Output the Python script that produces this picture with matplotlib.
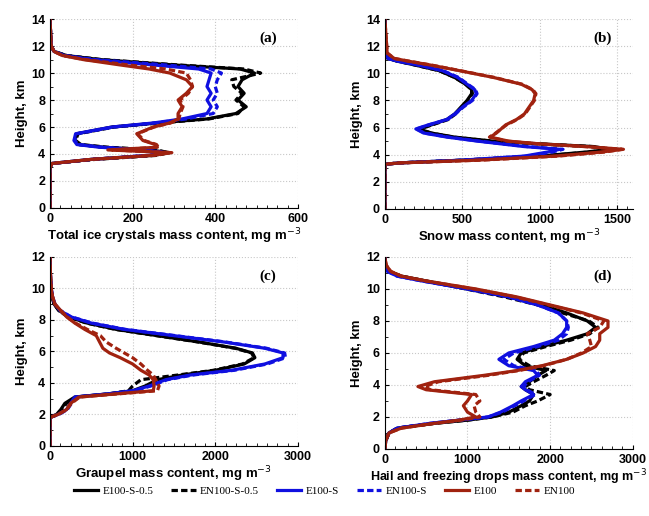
import numpy as np
import matplotlib
matplotlib.use('Agg')
import matplotlib.pyplot as plt
from matplotlib.ticker import AutoMinorLocator
from matplotlib.lines import Line2D

plt.rcParams['font.family'] = ['Liberation Sans', 'DejaVu Sans']

series_names = ['E100-S-0.5', 'EN100-S-0.5', 'E100-S', 'EN100-S', 'E100', 'EN100']
series_colors = ['black', 'black', '#1010e0', '#1010e0', '#a0220f', '#a0220f']
series_styles = ['-', '--', '-', '--', '-', '--']

# ---- (a) total ice crystals ----
h_a = [0, 3.0, 3.3, 3.6, 3.9, 4.1, 4.3, 4.5, 4.7, 5.0, 5.5, 6.0, 6.3, 6.6, 7.0, 7.5,
       8.0, 8.5, 9.0, 9.5, 10.0, 10.3, 10.6, 11.0, 11.3, 11.6, 12.0, 14.0]
a_e100s05 = [0, 0, 5, 100, 250, 290, 240, 130, 70, 60, 65, 150, 260, 380, 450, 475,
             455, 470, 455, 465, 495, 460, 300, 120, 40, 10, 3, 0]
a_en100s05 = [0, 0, 5, 110, 260, 285, 260, 140, 75, 62, 68, 155, 265, 385, 455, 470,
              450, 465, 445, 440, 510, 470, 310, 125, 40, 10, 3, 0]
a_e100s = [0, 0, 5, 100, 240, 280, 230, 120, 65, 58, 62, 150, 250, 320, 380, 390,
           380, 390, 380, 385, 390, 360, 250, 100, 35, 10, 3, 0]
a_en100s = [0, 0, 5, 100, 240, 280, 230, 125, 68, 60, 65, 155, 255, 330, 395, 405,
            395, 405, 400, 405, 415, 390, 280, 110, 35, 10, 3, 0]
a_e100 = [0, 0, 5, 100, 250, 295, 140, 260, 255, 225, 210, 250, 290, 310, 310, 320,
          310, 330, 345, 330, 290, 240, 170, 80, 30, 10, 3, 0]
a_en100 = [0, 0, 5, 100, 250, 290, 150, 262, 258, 228, 212, 252, 292, 312, 315, 322,
           315, 335, 345, 340, 330, 280, 190, 85, 30, 10, 3, 0]

# ---- (b) snow ----
h_b = [0, 3.3, 3.4, 3.6, 3.9, 4.2, 4.4, 4.6, 4.8, 5.0, 5.3, 5.6, 5.9, 6.2, 6.6, 7.0,
       7.5, 8.0, 8.5, 8.8, 9.2, 9.7, 10.2, 10.6, 10.9, 11.1, 11.5, 14.0]
b_e100s05 = [0, 0, 100, 500, 1000, 1300, 1450, 1350, 1000, 700, 450, 300, 220, 300, 400, 450,
             490, 530, 560, 560, 520, 450, 350, 200, 80, 20, 5, 0]
b_en100s05 = [0, 0, 100, 520, 1020, 1320, 1460, 1340, 990, 690, 440, 295, 225, 305, 410, 455,
              495, 535, 565, 560, 520, 450, 350, 200, 80, 20, 5, 0]
b_e100s = [0, 0, 100, 500, 900, 1050, 1130, 900, 750, 600, 400, 250, 200, 280, 400, 450,
           500, 560, 590, 580, 530, 470, 370, 220, 80, 20, 5, 0]
b_en100s = [0, 0, 100, 500, 920, 1080, 1150, 920, 760, 610, 410, 255, 205, 285, 405, 455,
            505, 565, 595, 585, 535, 475, 375, 225, 85, 20, 5, 0]
b_e100 = [0, 0, 100, 600, 1100, 1400, 1540, 1300, 1000, 800, 680, 720, 750, 780, 850, 900,
          930, 960, 970, 950, 880, 700, 480, 300, 150, 60, 15, 0]
b_en100 = [0, 0, 100, 620, 1120, 1420, 1530, 1290, 990, 790, 675, 715, 750, 785, 855, 905,
           935, 965, 975, 955, 885, 705, 485, 305, 155, 60, 15, 0]

# ---- (c) graupel ----
h_c = [0, 1.8, 2.0, 2.3, 2.7, 3.1, 3.3, 3.5, 3.8, 4.2, 4.5, 4.8, 5.2, 5.6, 5.9, 6.2,
       6.6, 7.0, 7.4, 7.8, 8.2, 8.6, 9.0, 9.5, 10.0, 11.0, 12.0]
c_e100s05 = [0, 0, 80, 130, 180, 300, 700, 1000, 1150, 1300, 1600, 2000, 2350, 2480, 2450, 2250,
             1800, 1300, 800, 450, 220, 110, 50, 25, 12, 4, 0]
c_en100s05 = [0, 0, 90, 140, 200, 320, 720, 950, 1000, 1100, 1550, 1980, 2330, 2470, 2440, 2240,
              1790, 1290, 790, 440, 215, 105, 50, 25, 12, 4, 0]
c_e100s = [0, 0, 100, 200, 250, 300, 700, 1000, 1200, 1400, 1700, 2200, 2600, 2820, 2820, 2600,
           2100, 1500, 900, 500, 250, 120, 60, 30, 15, 5, 0]
c_en100s = [0, 0, 110, 210, 260, 310, 720, 1020, 1220, 1420, 1730, 2230, 2630, 2850, 2840, 2620,
            2120, 1520, 910, 510, 255, 125, 60, 30, 15, 5, 0]
c_e100 = [0, 0, 100, 200, 250, 350, 800, 1250, 1260, 1250, 1200, 1100, 1000, 850, 720, 640,
          600, 560, 420, 300, 200, 130, 60, 30, 15, 5, 0]
c_en100 = [0, 0, 100, 200, 260, 360, 820, 1300, 1320, 1280, 1250, 1180, 1100, 1000, 900, 800,
           680, 610, 450, 310, 205, 130, 60, 30, 15, 5, 0]

# ---- (d) hail and freezing drops ----
h_d = [0, 0.5, 1.0, 1.3, 1.6, 1.8, 2.0, 2.3, 2.7, 3.0, 3.4, 3.7, 3.9, 4.2, 4.6, 4.9,
       5.2, 5.6, 6.0, 6.4, 6.8, 7.2, 7.6, 8.0, 8.5, 9.0, 9.5, 10.0, 10.5, 10.8, 11.1, 11.5, 12.0]
d_e100s05 = [0, 10, 50, 150, 600, 1000, 1300, 1500, 1650, 1750, 1800, 1700, 1650, 1750, 1850, 1950,
             1700, 1600, 1650, 1900, 2200, 2450, 2550, 2450, 2200, 1900, 1500, 1000, 500, 200, 50, 10, 0]
d_en100s05 = [0, 10, 50, 150, 600, 1000, 1300, 1550, 1700, 1850, 2000, 1750, 1700, 1800, 1950, 2050,
              1750, 1620, 1680, 1950, 2250, 2480, 2580, 2470, 2150, 1850, 1450, 980, 490, 200, 50, 10, 0]
d_e100s = [0, 10, 50, 150, 550, 900, 1250, 1400, 1550, 1650, 1800, 1700, 1650, 1700, 1850, 1800,
           1500, 1380, 1500, 1800, 2050, 2150, 2200, 2200, 2100, 1850, 1500, 1000, 450, 150, 30, 5, 0]
d_en100s = [0, 10, 50, 150, 550, 900, 1250, 1420, 1570, 1680, 1820, 1720, 1680, 1730, 1870, 1830,
            1560, 1440, 1560, 1850, 2100, 2200, 2220, 2200, 2100, 1850, 1500, 1000, 450, 150, 30, 5, 0]
d_e100 = [0, 10, 50, 200, 600, 900, 1100, 1000, 950, 1000, 1050, 500, 400, 600, 1200, 1600,
          1900, 2200, 2400, 2550, 2600, 2600, 2700, 2700, 2400, 2000, 1600, 1100, 500, 200, 70, 15, 0]
d_en100 = [0, 10, 50, 200, 600, 920, 1150, 1100, 1080, 1150, 1100, 550, 480, 650, 1250, 1620,
           1920, 2200, 2380, 2500, 2480, 2450, 2600, 2650, 2380, 1980, 1580, 1080, 500, 200, 70, 15, 0]

panels = [
    ('(a)', h_a, [a_e100s05, a_en100s05, a_e100s, a_en100s, a_e100, a_en100],
     'Total ice crystals mass content, mg m$^{-3}$', (0, 600), [0, 200, 400, 600], (0, 14), [0, 2, 4, 6, 8, 10, 12, 14]),
    ('(b)', h_b, [b_e100s05, b_en100s05, b_e100s, b_en100s, b_e100, b_en100],
     'Snow mass content, mg m$^{-3}$', (0, 1600), [0, 500, 1000, 1500], (0, 14), [0, 2, 4, 6, 8, 10, 12, 14]),
    ('(c)', h_c, [c_e100s05, c_en100s05, c_e100s, c_en100s, c_e100, c_en100],
     'Graupel mass content, mg m$^{-3}$', (0, 3000), [0, 1000, 2000, 3000], (0, 12), [0, 2, 4, 6, 8, 10, 12]),
    ('(d)', h_d, [d_e100s05, d_en100s05, d_e100s, d_en100s, d_e100, d_en100],
     'Hail and freezing drops mass content, mg m$^{-3}$', (0, 3000), [0, 1000, 2000, 3000], (0, 12), [0, 2, 4, 6, 8, 10, 12]),
]

# axes boxes in figure fraction
boxes = [
    [0.077, 0.597, 0.382, 0.366],
    [0.593, 0.595, 0.382, 0.368],
    [0.077, 0.136, 0.382, 0.366],
    [0.593, 0.130, 0.382, 0.372],
]

fig = plt.figure(figsize=(6.49, 5.16), dpi=100)

for (lab, h, vals, xlabel, xlim, xticks, ylim, yticks), box in zip(panels, boxes):
    ax = fig.add_axes(box)
    for v, c, ls in zip(vals, series_colors, series_styles):
        ax.plot(v, h, color=c, linestyle=ls, linewidth=2.3,
                dashes=(2, 1) if ls == '--' else (None, None))
    ax.set_xlim(*xlim)
    ax.set_ylim(*ylim)
    ax.set_xticks(xticks)
    ax.set_yticks(yticks)
    ax.xaxis.set_minor_locator(AutoMinorLocator(8))
    ax.yaxis.set_minor_locator(AutoMinorLocator(2))
    ax.grid(True, color='#c8c8c8', linestyle=':', linewidth=0.8)
    ax.spines['top'].set_visible(False)
    ax.spines['right'].set_visible(False)
    ax.tick_params(which='both', direction='in', labelsize=9)
    ax.tick_params(which='major', length=3)
    ax.tick_params(which='minor', length=2)
    for t in ax.get_xticklabels() + ax.get_yticklabels():
        t.set_fontweight('bold')
    xl_size = 9.0 if lab == '(d)' else 9.5
    ax.set_xlabel(xlabel, fontsize=xl_size, fontweight='bold', labelpad=1)
    ax.set_ylabel('Height, km', fontsize=9.5, fontweight='bold', labelpad=2)
    ax.text(0.88, 0.9, lab, transform=ax.transAxes, ha='center', va='center',
            fontsize=11, fontweight='bold', family='Liberation Serif')

handles = [Line2D([], [], color=c, linestyle=ls, linewidth=2.3,
                  dashes=(2, 1) if ls == '--' else (None, None))
           for c, ls in zip(series_colors, series_styles)]
fig.legend(handles, series_names, loc='center', bbox_to_anchor=(0.5, 0.048), ncol=6,
           frameon=False, handlelength=2.2, handletextpad=0.4, columnspacing=1.6,
           prop={'family': 'Liberation Serif', 'size': 8})

fig.savefig('out.png', dpi=100)
